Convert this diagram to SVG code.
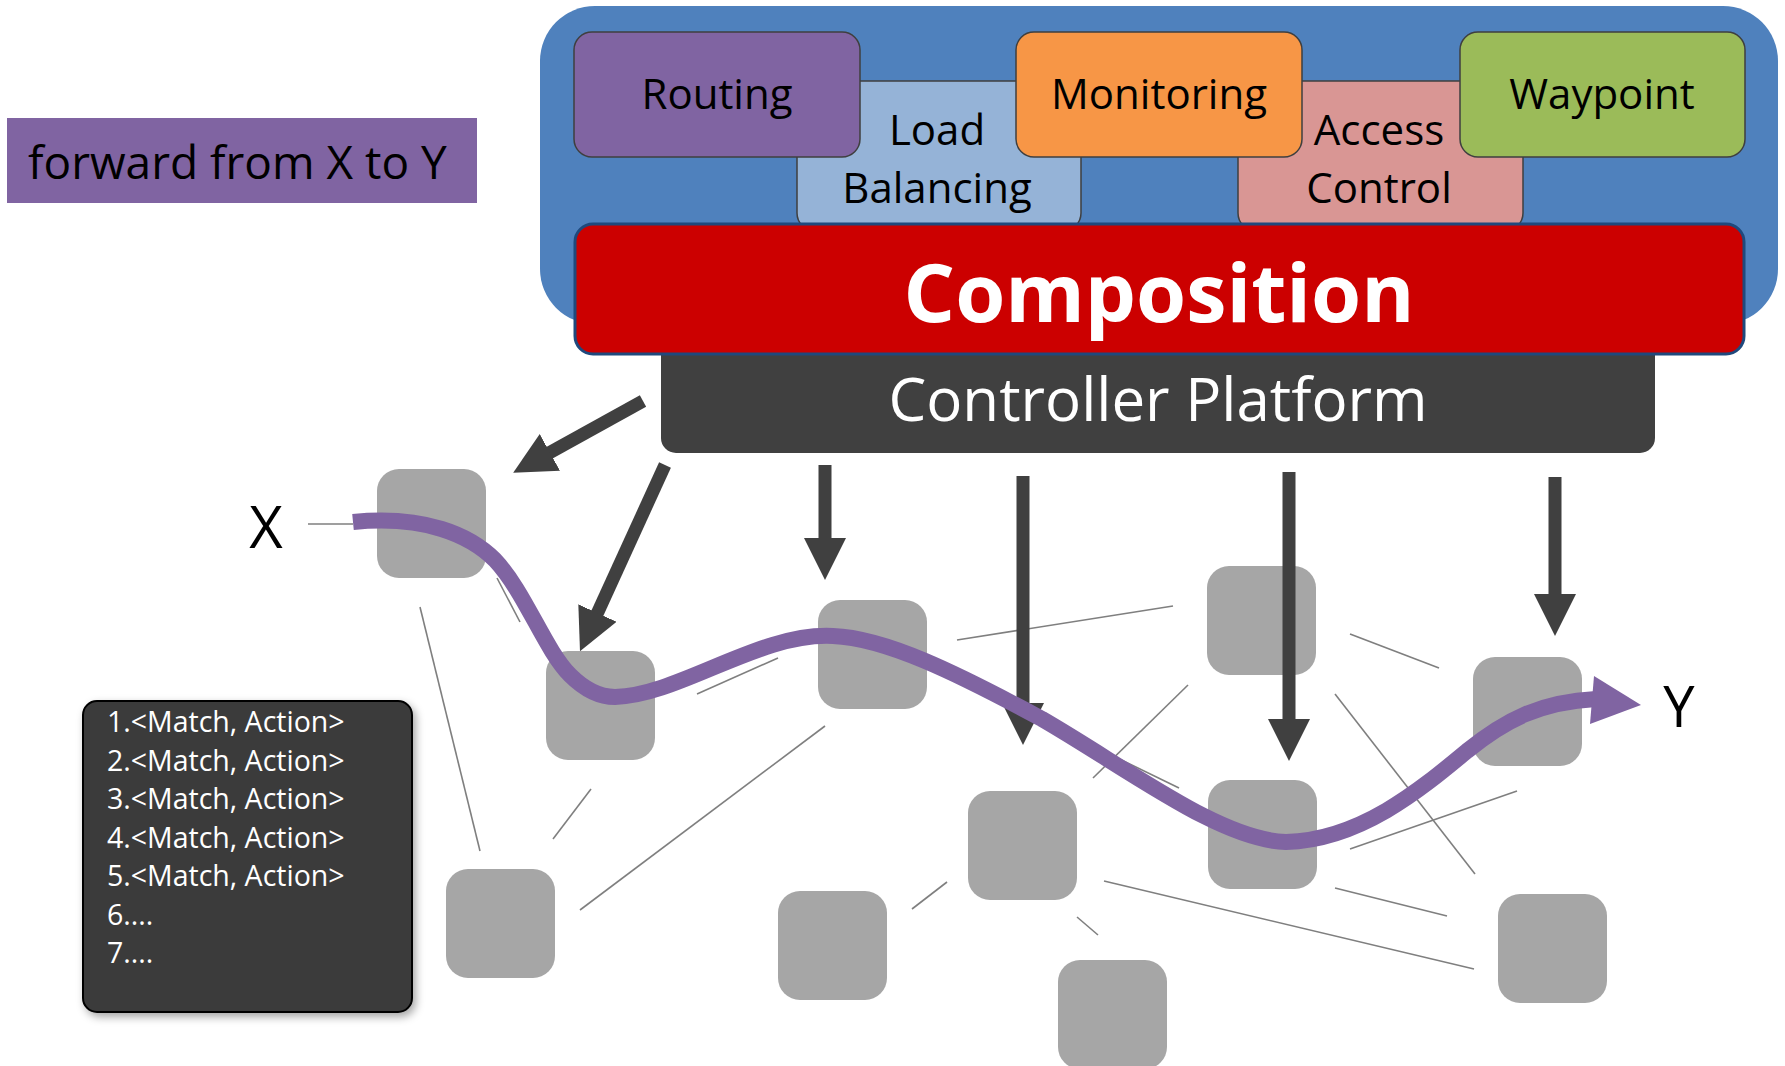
<svg xmlns="http://www.w3.org/2000/svg" width="1785" height="1066" viewBox="0 0 1785 1066">
<style>
.t{font-family:"Open Sans","Noto Sans","Liberation Sans",sans-serif;}
.app{stroke:#3F3F3F;stroke-width:1.5;}
.lbl{font-size:42px;fill:#000;text-anchor:middle;}
.sw{fill:#A6A6A6;}
.link{stroke:#7F7F7F;stroke-width:1.6;fill:none;}
.ctl{stroke:#404040;stroke-width:13;fill:none;marker-end:url(#ah);}
.rule{font-size:28.5px;fill:#fff;}
</style>
<defs>
<marker id="ah" markerUnits="userSpaceOnUse" markerWidth="42" markerHeight="42" viewBox="0 0 40 40" refX="1" refY="20" orient="auto">
<path d="M0,0 L40,20 L0,40 z" fill="#404040"/>
</marker>
<filter id="sh" x="-10%" y="-10%" width="125%" height="125%">
<feDropShadow dx="3" dy="4" stdDeviation="4" flood-color="#000" flood-opacity="0.35"/>
</filter>
</defs>

<g id="policy-layer">
<rect x="540" y="6" width="1238" height="318" rx="55" fill="#4F81BD"/>
</g>
<g id="load-balancing">
<rect class="app" x="797" y="81" width="284" height="150" rx="18" fill="#95B3D7"/>
<text class="t lbl" x="937" y="145">Load</text>
<text class="t lbl" x="937" y="203">Balancing</text>
</g>
<g id="access-control">
<rect class="app" x="1238" y="81" width="285" height="150" rx="18" fill="#D99694"/>
<text class="t lbl" x="1379" y="145">Access</text>
<text class="t lbl" x="1379" y="203">Control</text>
</g>
<g id="routing">
<rect class="app" x="574" y="32" width="286" height="125" rx="18" fill="#8064A2"/>
<text class="t lbl" x="717" y="109">Routing</text>
</g>
<g id="monitoring">
<rect class="app" x="1016" y="32" width="286" height="125" rx="18" fill="#F79646"/>
<text class="t lbl" x="1159" y="109">Monitoring</text>
</g>
<g id="waypoint">
<rect class="app" x="1460" y="32" width="285" height="125" rx="18" fill="#9BBB59"/>
<text class="t lbl" x="1602" y="109">Waypoint</text>
</g>
<g id="controller-platform">
<rect x="661" y="320" width="994" height="133" rx="15" fill="#404040"/>
<text class="t" x="1158" y="421" font-size="60" fill="#fff" text-anchor="middle">Controller Platform</text>
</g>
<g id="composition">
<rect x="575" y="224" width="1169" height="130" rx="18" fill="#CC0000" stroke="#1F497D" stroke-width="3"/>
<text class="t" x="1159" y="322" font-size="81" font-weight="bold" fill="#fff" text-anchor="middle">Composition</text>
</g>

<g id="goal">
<rect x="7" y="118" width="470" height="85" fill="#8064A2"/>
<text class="t" x="28" y="179" font-size="46" fill="#000">forward from X to Y</text>
</g>

<g id="flow-table">
<rect x="83" y="701" width="329" height="311" rx="14" fill="#3B3B3B" stroke="#000" stroke-width="2" filter="url(#sh)"/>
<text class="t rule" x="107" y="732">1.&lt;Match, Action&gt;</text>
<text class="t rule" x="107" y="771">2.&lt;Match, Action&gt;</text>
<text class="t rule" x="107" y="809">3.&lt;Match, Action&gt;</text>
<text class="t rule" x="107" y="848">4.&lt;Match, Action&gt;</text>
<text class="t rule" x="107" y="886">5.&lt;Match, Action&gt;</text>
<text class="t rule" x="107" y="925">6....</text>
<text class="t rule" x="107" y="963">7....</text>
</g>

<g id="links">
<line class="link" x1="308" y1="524" x2="353" y2="524"/>
<line class="link" x1="497" y1="578" x2="520" y2="622"/>
<line class="link" x1="420" y1="607" x2="480" y2="851"/>
<line class="link" x1="697" y1="694" x2="778" y2="658"/>
<line class="link" x1="591" y1="789" x2="553" y2="839"/>
<line class="link" x1="825" y1="726" x2="580" y2="910"/>
<line class="link" x1="947" y1="882" x2="912" y2="909"/>
<line class="link" x1="957" y1="640" x2="1173" y2="606"/>
<line class="link" x1="1062" y1="731" x2="1179" y2="788"/>
<line class="link" x1="1093" y1="778" x2="1188" y2="685"/>
<line class="link" x1="1350" y1="634" x2="1439" y2="668"/>
<line class="link" x1="1335" y1="694" x2="1475" y2="874"/>
<line class="link" x1="1350" y1="849" x2="1517" y2="791"/>
<line class="link" x1="1335" y1="888" x2="1447" y2="916"/>
<line class="link" x1="1104" y1="881" x2="1474" y2="969"/>
<line class="link" x1="1077" y1="917" x2="1098" y2="935"/>
</g>

<g id="sw-a"><rect class="sw" x="377" y="469" width="109" height="109" rx="22"/></g>
<g id="sw-b"><rect class="sw" x="546" y="651" width="109" height="109" rx="22"/></g>
<g id="sw-c"><rect class="sw" x="818" y="600" width="109" height="109" rx="22"/></g>
<g id="sw-d"><rect class="sw" x="446" y="869" width="109" height="109" rx="22"/></g>
<g id="sw-e"><rect class="sw" x="778" y="891" width="109" height="109" rx="22"/></g>
<g id="sw-f"><rect class="sw" x="1207" y="566" width="109" height="109" rx="22"/></g>
<g id="sw-g"><rect class="sw" x="968" y="791" width="109" height="109" rx="22"/></g>
<g id="sw-h"><rect class="sw" x="1208" y="780" width="109" height="109" rx="22"/></g>
<g id="sw-i"><rect class="sw" x="1473" y="657" width="109" height="109" rx="22"/></g>
<g id="sw-j"><rect class="sw" x="1498" y="894" width="109" height="109" rx="22"/></g>
<g id="sw-k"><rect class="sw" x="1058" y="960" width="109" height="109" rx="22"/></g>

<g id="control-arrows">
<line class="ctl" x1="643" y1="401" x2="549" y2="453"/>
<line class="ctl" x1="665" y1="465" x2="597" y2="614"/>
<line class="ctl" x1="825" y1="465" x2="825" y2="539"/>
<line class="ctl" x1="1023" y1="476" x2="1023" y2="704"/>
<line class="ctl" x1="1289" y1="472" x2="1289" y2="720"/>
<line class="ctl" x1="1555" y1="477" x2="1555" y2="595"/>
</g>

<g id="path-x-y">
<path d="M353,522 C425,515 470,535 495,560 C525,592 545,650 570,675 C585,690 600,697 615,697 C680,695 760,632 833,636 C885,638 955,672 1042,719 C1130,770 1220,840 1286,842 C1360,840 1420,790 1467,751 C1505,720 1540,702 1596,699" fill="none" stroke="#8064A2" stroke-width="16"/>
<polygon points="1594,676 1641,705 1590,724" fill="#8064A2"/>
</g>

<g id="endpoints">
<text class="t" x="266" y="548" font-size="58" fill="#000" text-anchor="middle">X</text>
<text class="t" x="1679" y="727" font-size="56" fill="#000" text-anchor="middle">Y</text>
</g>
</svg>
